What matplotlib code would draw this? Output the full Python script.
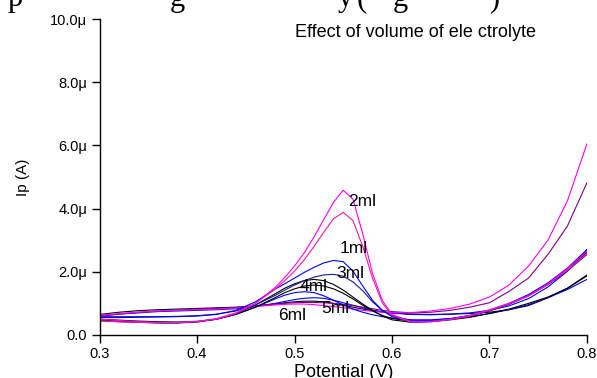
import matplotlib
matplotlib.use('Agg')
import matplotlib.pyplot as plt
import matplotlib.ticker as ticker

plt.rcParams['font.family'] = ['Liberation Sans', 'DejaVu Sans']

#
# Data (potential in V, current in uA)
#

potential = [0.30, 0.32, 0.34, 0.36, 0.38, 0.40, 0.42, 0.44, 0.46, 0.48, 0.49,
             0.50, 0.51, 0.52, 0.53, 0.54, 0.55, 0.56, 0.57, 0.58, 0.59, 0.60,
             0.62, 0.64, 0.66, 0.68, 0.70, 0.72, 0.74, 0.76, 0.78, 0.80]

# curves with a clear oxidation peak
peak_2ml = [0.50, 0.46, 0.42, 0.40, 0.39, 0.42, 0.50, 0.68, 1.00, 1.50, 1.82,
            2.18, 2.60, 3.10, 3.65, 4.20, 4.58, 4.30, 3.20, 1.95, 1.10, 0.65,
            0.42, 0.43, 0.50, 0.62, 0.80, 1.00, 1.24, 1.62, 2.10, 2.65]
peak_2ml_b = [0.45, 0.42, 0.40, 0.39, 0.40, 0.43, 0.52, 0.70, 1.00, 1.45, 1.72,
              2.02, 2.38, 2.80, 3.25, 3.68, 3.88, 3.62, 2.80, 1.80, 1.02, 0.62,
              0.41, 0.42, 0.49, 0.60, 0.78, 0.98, 1.24, 1.60, 2.05, 2.58]
peak_1ml = [0.55, 0.55, 0.56, 0.57, 0.58, 0.60, 0.65, 0.78, 1.05, 1.45, 1.62,
            1.80, 1.98, 2.14, 2.28, 2.36, 2.32, 2.02, 1.55, 1.10, 0.78, 0.58,
            0.46, 0.46, 0.52, 0.62, 0.78, 1.00, 1.28, 1.65, 2.12, 2.70]
peak_3ml = [0.58, 0.58, 0.58, 0.58, 0.59, 0.61, 0.66, 0.76, 0.95, 1.25, 1.42,
            1.58, 1.72, 1.83, 1.90, 1.92, 1.86, 1.68, 1.40, 1.05, 0.78, 0.60,
            0.46, 0.45, 0.50, 0.60, 0.76, 0.97, 1.24, 1.60, 2.03, 2.55]
peak_4ml = [0.45, 0.42, 0.40, 0.38, 0.38, 0.41, 0.50, 0.68, 0.95, 1.30, 1.48,
            1.62, 1.72, 1.76, 1.72, 1.60, 1.42, 1.20, 0.98, 0.78, 0.60, 0.48,
            0.40, 0.42, 0.48, 0.56, 0.68, 0.82, 1.00, 1.20, 1.48, 1.87]
peak_4ml_b = [0.50, 0.47, 0.44, 0.42, 0.41, 0.43, 0.50, 0.65, 0.88, 1.18, 1.34,
              1.46, 1.55, 1.58, 1.55, 1.46, 1.32, 1.14, 0.94, 0.76, 0.62, 0.52,
              0.44, 0.45, 0.51, 0.61, 0.77, 0.98, 1.25, 1.60, 2.05, 2.62]
peak_6ml = [0.47, 0.44, 0.41, 0.39, 0.39, 0.42, 0.50, 0.66, 0.88, 1.14, 1.26,
            1.34, 1.37, 1.34, 1.24, 1.10, 0.95, 0.82, 0.72, 0.64, 0.58, 0.54,
            0.48, 0.48, 0.52, 0.58, 0.68, 0.80, 0.96, 1.18, 1.44, 1.76]

# flatter curves
flat_pink = [0.62, 0.68, 0.72, 0.76, 0.78, 0.80, 0.82, 0.85, 0.90, 0.95, 0.97,
             0.98, 0.98, 0.96, 0.93, 0.90, 0.86, 0.82, 0.78, 0.75, 0.72, 0.70,
             0.71, 0.76, 0.84, 0.98, 1.20, 1.58, 2.18, 3.00, 4.25, 6.05]
flat_5ml = [0.60, 0.66, 0.72, 0.76, 0.79, 0.82, 0.84, 0.87, 0.92, 0.98, 1.00,
            1.02, 1.03, 1.03, 1.02, 1.00, 0.97, 0.93, 0.88, 0.83, 0.78, 0.74,
            0.70, 0.72, 0.78, 0.88, 1.02, 1.38, 1.80, 2.55, 3.45, 4.82]
flat_black = [0.65, 0.72, 0.77, 0.80, 0.82, 0.84, 0.86, 0.88, 0.92, 0.98, 1.02,
              1.05, 1.07, 1.07, 1.05, 1.00, 0.94, 0.88, 0.82, 0.77, 0.73, 0.70,
              0.66, 0.65, 0.66, 0.68, 0.72, 0.80, 0.93, 1.18, 1.48, 1.90]
flat_blue = [0.60, 0.66, 0.70, 0.74, 0.76, 0.78, 0.80, 0.83, 0.90, 1.00, 1.06,
             1.12, 1.16, 1.18, 1.16, 1.10, 1.02, 0.94, 0.86, 0.79, 0.73, 0.69,
             0.65, 0.64, 0.66, 0.70, 0.78, 0.92, 1.15, 1.52, 2.02, 2.70]

curves = [
    (flat_black, 'black'),
    (flat_blue, '#0000ff'),
    (flat_5ml, '#800080'),
    (flat_pink, '#ff00ff'),
    (peak_6ml, '#0000ff'),
    (peak_4ml_b, 'black'),
    (peak_4ml, 'black'),
    (peak_3ml, '#1a1a8c'),
    (peak_1ml, '#0000ff'),
    (peak_2ml_b, '#ff1a8c'),
    (peak_2ml, '#ff00ff'),
]

labels = ['2ml', '1ml', '3ml', '4ml', '5ml', '6ml']
label_x = [0.5555, 0.5465, 0.5425, 0.5055, 0.5275, 0.483]
label_y = [4.22, 2.74, 1.95, 1.55, 0.84, 0.63]

#
# Graph
#

fig = plt.figure(figsize=(5.97, 3.78), dpi=100)
ax = fig.add_axes([0.1667, 0.1138, 0.8165, 0.8359])

for values, color in curves:
    ax.plot(potential, [v * 1e-6 for v in values], color=color, lw=0.8)

for text, x, y in zip(labels, label_x, label_y):
    ax.text(x, y * 1e-6, text, fontsize=12.5, va='center', ha='left')

ax.text(0.5006, 9.56e-6, 'Effect of volume of ele ctrolyte', fontsize=13,
        va='center', ha='left')

ax.set_xlim(0.3, 0.8)
ax.set_ylim(0, 10e-6)
ax.set_xticks([0.3, 0.4, 0.5, 0.6, 0.7, 0.8])
ax.set_yticks([0, 2e-6, 4e-6, 6e-6, 8e-6, 10e-6])
ax.xaxis.set_major_formatter(ticker.FuncFormatter(lambda v, p: f'{v:.1f}'))
ax.yaxis.set_major_formatter(ticker.FuncFormatter(
    lambda v, p: '0.0' if v == 0 else f'{v * 1e6:.1f}\u03bc'))

for side in ['top', 'right']:
    ax.spines[side].set_visible(False)
for side in ['left', 'bottom']:
    ax.spines[side].set_linewidth(1.0)
ax.tick_params(direction='out', length=6, width=1.0, labelsize=10.5, pad=3)

ax.set_xlabel('Potential (V)', fontsize=13, labelpad=2)
ax.set_ylabel('Ip (A)', fontsize=11, labelpad=14)

# cut-off line of document text above the chart
for ch, px in [('p', 8), ('g', 170), ('y', 338), ('(', 357), ('g', 393), (')', 489)]:
    fig.text(px / 597, 1 - 6 / 378, ch, family='Liberation Serif', fontsize=22,
             va='baseline', ha='left')

fig.savefig('out.png', dpi=100)
